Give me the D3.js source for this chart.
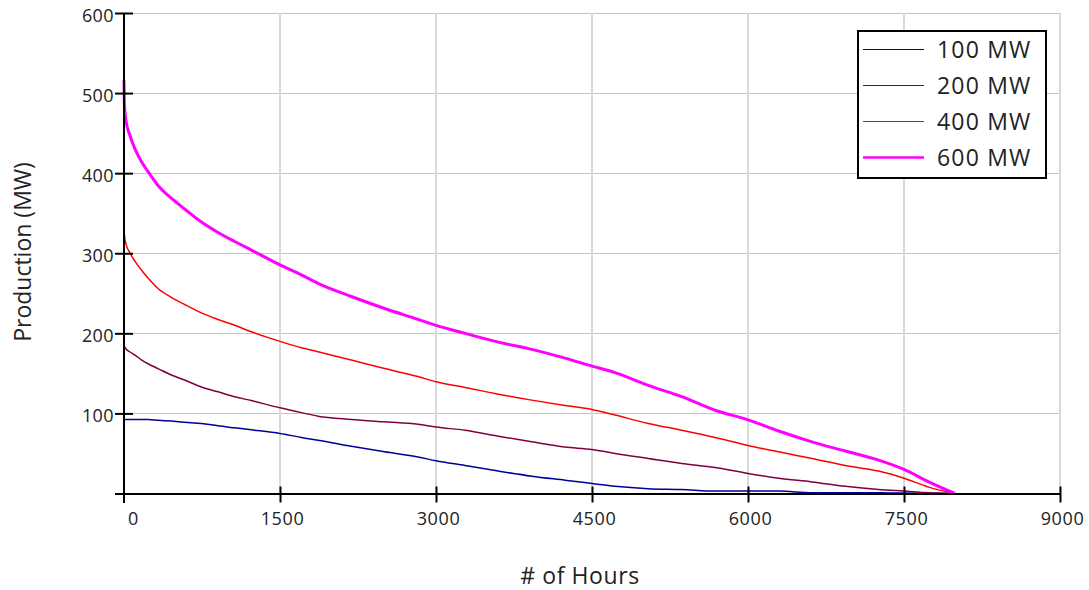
<!DOCTYPE html>
<html>
<head>
<meta charset="utf-8">
<script src="https://cdn.jsdelivr.net/npm/d3@7"></script>
<style>
  html, body { margin: 0; padding: 0; background: #fff; }
  svg { display: block; font-family: "Open Sans", "DejaVu Sans", sans-serif; }
</style>
</head>
<body>
<svg id="chart" width="1089" height="590"></svg>
<script>
// ---- data ----
const hours = [0, 4, 20, 55, 103, 167, 231, 327, 455, 583, 744, 904, 1064, 1224, 1500, 1705, 1865, 2186, 2506, 2827, 3000, 3279, 3599, 3920, 4240, 4500, 4721, 5041, 5362, 5683, 6000, 6295, 6615, 6936, 7256, 7500, 7737, 7990];
const mw100 = [92.5, 92.5, 92.5, 92.5, 92.5, 92.5, 92.5, 91.5, 90.4, 89, 87.5, 84.5, 82, 79.5, 75, 70, 66.6, 59, 52, 45.7, 40.8, 35, 28, 21.6, 16.6, 12.5, 9, 6, 5, 3, 3, 3, 1, 1, 1, 0.5, 0.3, 0];
const mw200 = [187.5, 184, 180.5, 177, 173, 167, 162, 156, 148, 141.7, 133, 127, 120.8, 116, 107, 101, 96.6, 92.5, 89.5, 86.6, 83, 79, 71.6, 64.5, 58, 55, 50, 43.7, 37.5, 32.5, 25, 19, 14.5, 9, 5, 3, 1, 0];
const mw400 = [344, 323, 311, 301, 290.5, 279, 269, 256, 245, 236, 225.5, 217.3, 210, 202, 190, 182, 177, 166.6, 156, 146, 139.5, 132.5, 124, 116.6, 110, 105, 98, 87.5, 79, 70, 60, 52, 43.7, 35, 28, 19, 8, 0];
const mw600 = [516, 485, 465, 448, 431, 414.6, 402, 384.7, 368.7, 355.3, 339, 326, 314.7, 304, 285.4, 273, 262.5, 246, 231, 217.5, 210, 200, 189, 180, 169, 159, 151, 135, 121, 104, 92, 78, 64.5, 53, 41.6, 30, 14.5, 0];
const seriesNames = ["100 MW", "200 MW", "400 MW", "600 MW"];
const xTicks = [0, 1500, 3000, 4500, 6000, 7500, 9000];
const yTicks = [100, 200, 300, 400, 500, 600];
const xTitle = "# of Hours";
const yTitle = "Production (MW)";

// ---- styles ----
const colors = ["#000099", "#7f0040", "#ff0000", "#ff00ff"];
const widths = [1.5, 1.5, 1.5, 3];

const svg = d3.select("#chart");
const pL = 124, pR = 1060, pT = 13, pB = 493.5;
const x = d3.scaleLinear().domain([0, 9000]).range([pL, pR]);
const y = d3.scaleLinear().domain([0, 600]).range([pB, pT]);

// gridlines
svg.append("g").selectAll("line").data(yTicks).join("line")
  .attr("x1", pL).attr("x2", pR)
  .attr("y1", d => Math.round(y(d)) + 0.5).attr("y2", d => Math.round(y(d)) + 0.5)
  .attr("stroke", "#c4c4c4").attr("stroke-width", 1);
svg.append("g").selectAll("line").data(xTicks.filter(d => d > 0)).join("line")
  .attr("x1", d => x(d)).attr("x2", d => x(d))
  .attr("y1", pT).attr("y2", pB)
  .attr("stroke", "#dadada").attr("stroke-width", 2);

// series
const series = [mw100, mw200, mw400, mw600];
const line = d3.line().x((d, i) => x(hours[i])).y(d => y(d)).curve(d3.curveMonotoneX);
series.forEach((s, k) => {
  svg.append("path").datum(s)
    .attr("d", line)
    .attr("fill", "none")
    .attr("stroke", colors[k])
    .attr("stroke-width", widths[k]);
});

// axes lines
svg.append("line").attr("x1", 115).attr("x2", pR).attr("y1", pB + 0.5).attr("y2", pB + 0.5)
  .attr("stroke", "#000").attr("stroke-width", 2);
svg.append("line").attr("x1", pL).attr("x2", pL).attr("y1", pT).attr("y2", 503)
  .attr("stroke", "#000").attr("stroke-width", 2);

// y ticks + labels
const yAxis = d3.axisLeft(y).tickValues(yTicks).tickSize(0).tickFormat(d3.format("d"));
const gy = svg.append("g").attr("transform", `translate(${pL},0)`).call(yAxis);
gy.select(".domain").remove();
gy.selectAll(".tick text").attr("x", -10).attr("dy", "0.45em")
  .attr("font-size", 18).attr("fill", "#222").attr("font-family", "Open Sans")
  .attr("letter-spacing", 0.4);
gy.selectAll(".tick").append("line").attr("x1", -9).attr("x2", 9)
  .attr("stroke", "#000").attr("stroke-width", 2);

// x ticks + labels
const xAxis = d3.axisBottom(x).tickValues(xTicks).tickSize(0).tickFormat(d3.format("d"));
const gx = svg.append("g").attr("transform", `translate(0,${pB})`).call(xAxis);
gx.select(".domain").remove();
gx.selectAll(".tick text").attr("y", 19).attr("dy", "0.71em")
  .attr("dx", d => d === 0 ? 9 : 2)
  .attr("font-size", 18).attr("fill", "#222").attr("font-family", "Open Sans")
  .attr("letter-spacing", 0.6);
gx.selectAll(".tick").filter(d => d > 0).append("line").attr("y1", -7).attr("y2", 9)
  .attr("stroke", "#000").attr("stroke-width", 2);

// axis titles
svg.append("text").attr("x", 580).attr("y", 584).attr("text-anchor", "middle")
  .attr("font-size", 23).attr("fill", "#222").attr("letter-spacing", 0.6).text(xTitle);
svg.append("text").attr("transform", "translate(31,252) rotate(-90)").attr("text-anchor", "middle")
  .attr("font-size", 23).attr("fill", "#222").text(yTitle);

// legend
const lg = svg.append("g");
lg.append("rect").attr("x", 858).attr("y", 31).attr("width", 188).attr("height", 147)
  .attr("fill", "#fff").attr("stroke", "#000").attr("stroke-width", 2);
seriesNames.forEach((n, k) => {
  const ly = 49.5 + k * 36;
  lg.append("line").attr("x1", 863).attr("x2", 924).attr("y1", ly).attr("y2", ly)
    .attr("stroke", colors[k]).attr("stroke-width", widths[k] === 3 ? 2.5 : 1.2);
  lg.append("text").attr("x", 937).attr("y", ly).attr("dy", "0.36em")
    .attr("font-size", 23).attr("fill", "#222").attr("letter-spacing", 1.2).text(n);
});
</script>
</body>
</html>
